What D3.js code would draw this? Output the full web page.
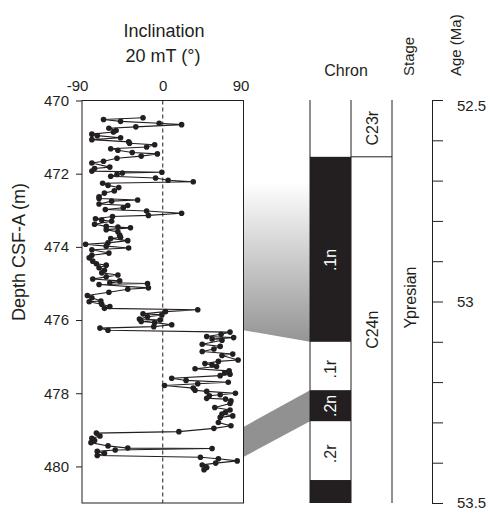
<!DOCTYPE html>
<html><head><meta charset="utf-8">
<script src="https://cdn.jsdelivr.net/npm/d3@7"></script>
<style>
body{margin:0;background:#fff}
svg text{font-family:"Liberation Sans",Arial,Helvetica,sans-serif;fill:#231f20}
</style>
</head><body><svg id="c" width="490" height="510"></svg>
<script>
// ---- data ----
const depthM = [
470.47,470.52,470.57,470.62,470.66,470.72,470.76,470.82,470.86,470.92,
470.96,471.02,471.07,471.13,471.17,471.21,471.27,471.32,471.36,471.42,
471.46,471.52,471.58,471.66,471.71,471.82,471.86,471.93,471.96,471.98,
472.02,472.07,472.12,472.18,472.22,472.26,472.32,472.38,472.47,472.53,
472.63,472.68,472.72,472.75,472.83,472.87,472.93,472.98,473.02,473.08,
473.14,473.17,473.23,473.27,473.30,473.38,473.44,473.46,473.48,473.53,
473.59,473.68,473.74,473.77,473.83,473.89,473.93,473.98,474.03,474.08,
474.17,474.23,474.30,474.39,474.46,474.50,474.57,474.64,474.71,474.77,
474.82,474.88,474.93,474.98,475.00,475.03,475.12,475.16,475.24,475.33,
475.39,475.48,475.50,475.57,475.63,475.68,475.72,475.77,475.83,475.86,
475.91,475.97,476.00,476.04,476.07,476.13,476.18,476.22,476.28,476.33,
476.39,476.45,476.48,476.52,476.55,476.66,476.72,476.79,476.86,476.93,
476.97,477.09,477.13,477.19,477.23,477.27,477.33,477.39,477.44,477.48,
477.52,477.59,477.65,477.70,477.74,477.79,477.86,477.92,477.95,478.00,
478.04,478.07,478.14,478.16,478.21,478.28,478.39,478.46,478.52,478.57,
478.62,478.66,478.80,478.89,478.96,479.05,479.09,479.17,479.23,479.29,
479.35,479.44,479.50,479.51,479.55,479.59,479.64,479.70,479.75,479.79,
479.85,479.91,479.96,480.03,480.09
];
const inclinationDeg = [
-22,-66,-47,-4,21,-30,-60,-52,-55,-79,
-73,-47,-79,-38,-37,-9,-18,-58,-50,-34,
-6,-24,-51,-66,-79,-59,-76,-79,-1,-45,
-51,-58,-8,6,34,-67,-61,-49,-54,-65,
-71,-71,-28,-57,-71,-39,-44,-64,-18,21,
-16,-56,-75,-68,-57,-76,-63,-50,-36,-63,
-50,-48,-47,-58,-39,-61,-86,-63,-38,-79,
-60,-79,-82,-78,-74,-63,-71,-65,-68,-50,
-63,-78,-48,-59,-17,-71,-16,-39,-60,-84,
-79,-69,-82,-68,-59,-65,39,3,-22,-1,
-17,-26,-3,-24,-9,10,-10,-70,-61,75,
65,49,79,55,66,44,64,57,44,78,
66,84,62,47,55,60,36,74,69,75,
64,10,26,73,39,2,34,36,49,81,
64,52,49,70,76,75,58,75,70,66,
78,64,62,76,57,18,-74,-70,-79,-76,
-80,-61,-39,55,-53,-73,-65,-73,42,62,
83,59,44,49,46
];
const inclTicks = [-90, 0, 90];
const depthTicks = [470, 472, 474, 476, 478, 480];
const ageTicks = [52.5,52.6,52.7,52.8,52.9,53.0,53.1,53.2,53.3,53.4,53.5];
const ageLabelled = [52.5, 53, 53.5];
// chron blocks (age, Ma)
const chronTop    = [52.5,  52.641, 53.100, 53.220, 53.297, 53.443];
const chronBase   = [52.641, 53.100, 53.220, 53.297, 53.443, 53.5];
const chronNormal = [false, true, false, true, false, true];
const subLabels   = ["", ".1n", ".1r", ".2n", ".2r", ""];
const subLabelAge = [0, 52.897, 53.168, 53.259, 53.378, 0];
const chronNames  = ["C23r", "C24n"];
const chronNameAge = [52.570, 53.070];
const chronNameBoundary = [52.641];
const stageNames = ["Ypresian"];
const stageAge = [52.99];
// tie lines between depth and age
const tieDepth = [471.56, 476.28, 478.92, 479.74];
const tieAge   = [52.641, 53.100, 53.220, 53.297];

// ---- drawing ----
const ink = "#231f20";
const svg = d3.select("#c");
const x = d3.scaleLinear().domain([-90, 90]).range([82, 243.5]);
const y = d3.scaleLinear().domain([470, 481]).range([100.5, 503]);
const age = d3.scaleLinear().domain([52.5, 53.5]).range([100, 503]);
const colL = 310, colM = 351, colR = 392;

// connectors
const defs = svg.append("defs");
const grad = defs.append("linearGradient").attr("id","g1")
  .attr("gradientUnits","userSpaceOnUse").attr("x1",0).attr("x2",0)
  .attr("y1", age(tieAge[0]) + 25).attr("y2", age(tieAge[1]));
grad.append("stop").attr("offset",0).attr("stop-color","#ffffff");
grad.append("stop").attr("offset",1).attr("stop-color","#949494");
const xR = x(90);
svg.append("path")
  .attr("d", d3.line()([[xR, y(tieDepth[0])],[colL, age(tieAge[0])],[colL, age(tieAge[1])],[xR, y(tieDepth[1])]]) + "Z")
  .attr("fill","url(#g1)");
svg.append("path")
  .attr("d", d3.line()([[xR, y(tieDepth[2])],[colL, age(tieAge[2])],[colL, age(tieAge[3])],[xR, y(tieDepth[3])]]) + "Z")
  .attr("fill","#919191");

// titles
svg.append("text").attr("x",164).attr("y",37).attr("text-anchor","middle")
  .attr("font-size",18).text("Inclination");
svg.append("text").attr("x",163).attr("y",62).attr("text-anchor","middle")
  .attr("font-size",18).text("20 mT (°)");
svg.append("text").attr("transform","translate(25,252) rotate(-90)")
  .attr("text-anchor","middle").attr("font-size",18).text("Depth CSF-A (m)");

// top axis labels
const gTop = svg.append("g").attr("transform","translate(0,100.5)")
  .call(d3.axisTop(x).tickValues(inclTicks).tickSize(0).tickPadding(10).tickFormat(d => String(d)));
gTop.select(".domain").remove();
gTop.selectAll("text").attr("font-size",15).attr("fill",ink)
  .attr("dx", d => d < 0 ? -5 : (d > 0 ? -3 : 0));

// left axis
const gLeft = svg.append("g").attr("transform","translate(82,0)")
  .call(d3.axisLeft(y).tickValues(depthTicks).tickSize(6).tickPadding(7));
gLeft.select(".domain").remove();
gLeft.selectAll("line").attr("stroke",ink);
gLeft.selectAll("text").attr("font-size",15).attr("fill",ink);

// zero dashed line
svg.append("line").attr("x1",x(0)).attr("x2",x(0)).attr("y1",y(470)).attr("y2",y(481))
  .attr("stroke",ink).attr("stroke-width",1).attr("stroke-dasharray","4,3");

// data
const pts = depthM.map((d,i)=>[inclinationDeg[i], d]);
svg.append("path").datum(pts)
  .attr("d", d3.line().x(p=>x(p[0])).y(p=>y(p[1])))
  .attr("fill","none").attr("stroke",ink).attr("stroke-width",1.1);
svg.append("g").selectAll("circle").data(pts).join("circle")
  .attr("cx",p=>x(p[0])).attr("cy",p=>y(p[1])).attr("r",2.8).attr("fill",ink);

// frame
svg.append("rect").attr("x",x(-90)).attr("y",y(470)).attr("width",x(90)-x(-90))
  .attr("height",y(481)-y(470)).attr("fill","none").attr("stroke",ink).attr("stroke-width",1);

// chron column
svg.append("g").selectAll("rect").data(chronTop.map((t,i)=>i).filter(i=>chronNormal[i])).join("rect")
  .attr("x",colL).attr("width",colM-colL)
  .attr("y",i=>age(chronTop[i])).attr("height",i=>age(chronBase[i])-age(chronTop[i]))
  .attr("fill",ink);
[colL,colM,colR].forEach(cx=>{
  svg.append("line").attr("x1",cx).attr("x2",cx).attr("y1",age(52.5)).attr("y2",age(53.5))
    .attr("stroke",ink).attr("stroke-width",1);
});
chronNameBoundary.forEach(b=>{
  svg.append("line").attr("x1",colM).attr("x2",colR).attr("y1",age(b)).attr("y2",age(b))
    .attr("stroke",ink).attr("stroke-width",1);
});
subLabels.forEach((s,i)=>{
  if(!s) return;
  svg.append("text").attr("transform",`translate(${(colL+colM)/2},${age(subLabelAge[i])}) rotate(-90)`)
    .attr("text-anchor","middle").attr("dominant-baseline","central").attr("font-size",16)
    .style("fill", chronNormal[i] ? "#ffffff" : ink).text(s);
});
chronNames.forEach((s,i)=>{
  svg.append("text").attr("transform",`translate(${(colM+colR)/2+1},${age(chronNameAge[i])}) rotate(-90)`)
    .attr("text-anchor","middle").attr("dominant-baseline","central").attr("font-size",16).text(s);
});
stageNames.forEach((s,i)=>{
  svg.append("text").attr("transform",`translate(410,${age(stageAge[i])}) rotate(-90)`)
    .attr("text-anchor","middle").attr("dominant-baseline","central").attr("font-size",16).text(s);
});
svg.append("text").attr("x",346).attr("y",76).attr("text-anchor","middle").attr("font-size",16).text("Chron");
svg.append("text").attr("transform","translate(414,76) rotate(-90)").attr("font-size",15).text("Stage");
svg.append("text").attr("transform","translate(461,76) rotate(-90)").attr("font-size",15).text("Age (Ma)");

// age axis
const gAge = svg.append("g").attr("transform","translate(432,0)")
  .call(d3.axisRight(age).tickValues(ageTicks).tickSize(11).tickSizeOuter(0).tickPadding(14)
    .tickFormat(d => ageLabelled.some(v=>Math.abs(v-d)<1e-6) ? String(+d.toFixed(1)) : ""));
gAge.select(".domain").attr("stroke",ink);
gAge.selectAll("line").attr("stroke",ink);
gAge.selectAll("text").attr("font-size",15).attr("fill",ink)
  .attr("dy", d => Math.abs(d-52.5)<1e-6 ? "0.7em" : "0.32em");
</script>
</body></html>
